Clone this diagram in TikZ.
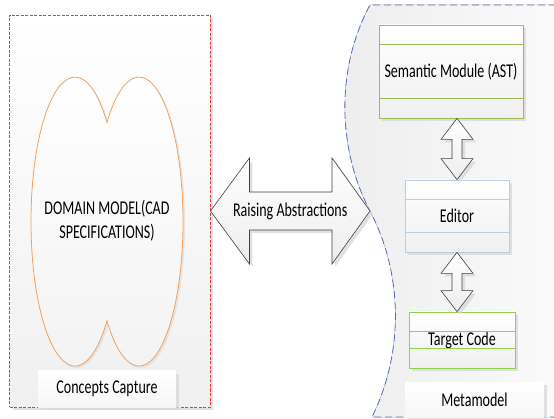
\documentclass[tikz,border=0pt]{standalone}
\usepackage{fontspec}
\setmainfont{Carlito}[FakeStretch=0.72]
\usetikzlibrary{shadows,calc}
\definecolor{capturered}{RGB}{226,62,62}
\definecolor{metablue}{RGB}{79,112,190}
\definecolor{domainorange}{RGB}{244,160,92}
\definecolor{semgreen}{RGB}{155,187,89}
\definecolor{editblue}{RGB}{185,205,229}
\definecolor{codegreen}{RGB}{146,208,80}
\definecolor{arrowgray}{RGB}{64,64,64}
\begin{document}
\begin{tikzpicture}[
    x=1pt, y=-1pt,
    font=\fontsize{19.5}{24}\selectfont,
    boxshadow/.style={drop shadow={shadow xshift=3pt, shadow yshift=-3pt, fill=gray!30, opacity=.8}},
    module/.style={rectangle, boxshadow, top color=white, bottom color=gray!12, line width=0.8pt, inner sep=0pt},
    tag/.style={rectangle, boxshadow, top color=white, bottom color=gray!7, inner sep=0pt},
    fatarrow/.style={draw=arrowgray, line width=0.6pt, top color=white, bottom color=gray!14, boxshadow}
  ]
  \useasboundingbox (0,0) rectangle (554,419);
  % left side: concepts capture
  \node[rectangle, boxshadow, top color=white, bottom color=gray!12, draw=capturered, dash pattern=on 3pt off 1.5pt, line width=0.9pt,
        minimum width=200.5pt, minimum height=392pt, inner sep=0pt] (concepts) at (109.75,211) {};
  \draw[domainorange, line width=0.8pt, top color=white, bottom color=gray!10,
        drop shadow={shadow xshift=2pt, shadow yshift=-2pt, fill=gray!25, opacity=.7}]
    (107,122.5) arc[start angle=43.3, end angle=316.7, x radius=44pt, y radius=144.5pt]
    arc[start angle=223.3, end angle=496.7, x radius=44pt, y radius=144.5pt] -- cycle;
  \node[align=center] (domain) at (107,221) {DOMAIN MODEL(CAD\\SPECIFICATIONS)};
  \node[tag, minimum width=138pt, minimum height=36pt] (ccap) at (107,389) {Concepts Capture};
  % right side: metamodel
  \fill[left color=gray!14, right color=gray!4]
    (370,5) .. controls (335,70) and (338,150) .. (370,211)
    .. controls (402,272) and (405,350) .. (372,417) -- (556,417) -- (556,5) -- cycle;
  \draw[metablue, line width=0.8pt, dash pattern=on 7pt off 4pt]
    (556,5) -- (370,5) .. controls (335,70) and (338,150) .. (370,211)
    .. controls (402,272) and (405,350) .. (372,417) -- (556,417);
  \coordinate (meta-in) at (370,211);
  \node[module, draw=semgreen, minimum width=144pt, minimum height=93pt] (sem) at (451,71.5) {Semantic Module (AST)};
  \node[module, draw=editblue, minimum width=104pt, minimum height=72pt] (edit) at (457,216) {Editor};
  \node[module, draw=codegreen, minimum width=106pt, minimum height=56pt] (code) at (462,340) {Target Code};
  \foreach \m/\c in {sem/semgreen, edit/editblue, code/codegreen} {
    \draw[\c, line width=0.8pt] ([yshift=-20pt]\m.north west) -- ([yshift=-20pt]\m.north east);
    \draw[\c, line width=0.8pt] ([yshift=20pt]\m.south west) -- ([yshift=20pt]\m.south east);
  }
  \node[tag, minimum width=139pt, minimum height=35pt] (meta) at (474.5,399.5) {Metamodel};
  % connectors
  \coordinate (a1top) at (edit.north |- sem.south);
  \coordinate (a1bot) at (edit.north);
  \coordinate (a2top) at (edit.south);
  \coordinate (a2bot) at (edit.south |- code.north);
  \foreach \t/\b in {a1top/a1bot, a2top/a2bot}
    \draw[fatarrow] (\t) -- ++(16,21) -- ++(-11,0) -- ($(\b)+(5,-21)$) -- ++(11,0) -- (\b)
      -- ++(-16,-21) -- ++(11,0) -- ($(\t)+(-5,21)$) -- ++(-11,0) -- cycle;
  \draw[fatarrow] (concepts.east) -- ++(39,-53) -- ++(0,34) -- ($(meta-in)+(-38,-19)$) -- ++(0,-34) -- (meta-in)
    -- ++(-38,53) -- ++(0,-34) -- ($(concepts.east)+(39,19)$) -- ++(0,34) -- cycle;
  \node (raise) at ($(concepts.east)!.5!(meta-in)$) {Raising Abstractions};
\end{tikzpicture}
\end{document}
